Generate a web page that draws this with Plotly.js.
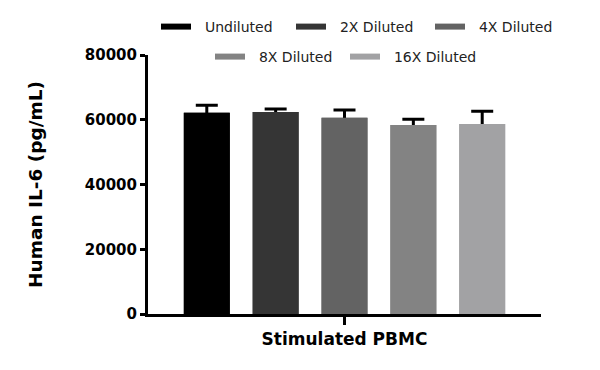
<!DOCTYPE html>
<html><head><meta charset="utf-8">
<script src="https://cdn.plot.ly/plotly-3.0.1.min.js"></script>
<style>html,body{margin:0;padding:0;background:#fff}</style>
</head><body><div id="chart" style="width:600px;height:370px"></div>
<script>
const category = ['Stimulated PBMC'];
const seriesNames = ['Undiluted', '2X Diluted', '4X Diluted', '8X Diluted', '16X Diluted'];
const means = [62200, 62400, 60600, 58400, 58700];
const errorsSD = [2300, 900, 2400, 1750, 3900];
const colors = ['#000000', '#353535', '#636363', '#838383', '#a2a2a4'];
const legendIds = ['legend', 'legend2', 'legend3', 'legend4', 'legend5'];
const yTicks = [0, 20000, 40000, 60000, 80000];
const yTitle = 'Human IL-6 (pg/mL)';

const FONT = 'DejaVu Sans';
const traces = [];
// error bars (mean ± SD), drawn behind the bars so only the upper half shows
seriesNames.forEach((name, i) => {
  traces.push({
    type: 'bar', x: category, y: [means[i]], name: name, offsetgroup: 'g' + i,
    marker: {color: colors[i], line: {width: 0}},
    error_y: {type: 'data', symmetric: true, array: [errorsSD[i]],
              color: '#000', thickness: 3, width: 11},
    showlegend: false, hoverinfo: 'skip'
  });
});
// bars on top
seriesNames.forEach((name, i) => {
  traces.push({
    type: 'bar', x: category, y: [means[i]], name: name, offsetgroup: 'g' + i,
    marker: {color: colors[i], line: {width: 0}},
    showlegend: false, hoverinfo: 'skip'
  });
});
// legend entries
seriesNames.forEach((name, i) => {
  traces.push({
    type: 'scatter', mode: 'lines', x: [null], y: [null],
    name: '\u00a0\u00a0' + name,
    line: {color: colors[i], width: 6},
    legend: legendIds[i], showlegend: true, hoverinfo: 'skip'
  });
});

function legendAt(px, py) {
  return {
    orientation: 'h', xanchor: 'left', yanchor: 'middle',
    xref: 'container', yref: 'container',
    x: px / 600, y: 1 - py / 370,
    font: {family: FONT, size: 14, color: '#222'},
    bgcolor: 'rgba(0,0,0,0)'
  };
}

const layout = {
  width: 600, height: 370,
  margin: {l: 148, r: 59, t: 55, b: 56, autoexpand: false},
  paper_bgcolor: '#fff', plot_bgcolor: '#fff',
  barmode: 'group', bargap: 0.124, bargroupgap: 0.333,
  font: {family: FONT, color: '#000'},
  xaxis: {
    type: 'category', range: [-0.5, 0.5],
    showline: true, linecolor: '#000', linewidth: 3,
    ticks: 'outside', ticklen: 8, tickwidth: 3, tickcolor: '#000',
    showticklabels: false, showgrid: false, zeroline: false, fixedrange: true,
    title: {text: category[0], font: {family: FONT, size: 17, weight: 'bold', color: '#000'}, standoff: 10}
  },
  yaxis: {
    range: [0, 80000], tickvals: yTicks, tickformat: 'd',
    showline: true, linecolor: '#000', linewidth: 3,
    ticks: 'outside', ticklen: 5, tickwidth: 3, tickcolor: '#000',
    showgrid: false, zeroline: false, fixedrange: true,
    tickfont: {family: FONT, size: 15, weight: 'bold', color: '#000'},
    title: {text: yTitle, font: {family: FONT, size: 18.5, weight: 'bold', color: '#000'}, standoff: 38}
  },
  legend: legendAt(156, 27),
  legend2: legendAt(291, 27),
  legend3: legendAt(430, 27),
  legend4: legendAt(210, 57),
  legend5: legendAt(345, 57),
  showlegend: true
};

Plotly.newPlot('chart', traces, layout, {displayModeBar: false, staticPlot: true});
</script></body></html>
